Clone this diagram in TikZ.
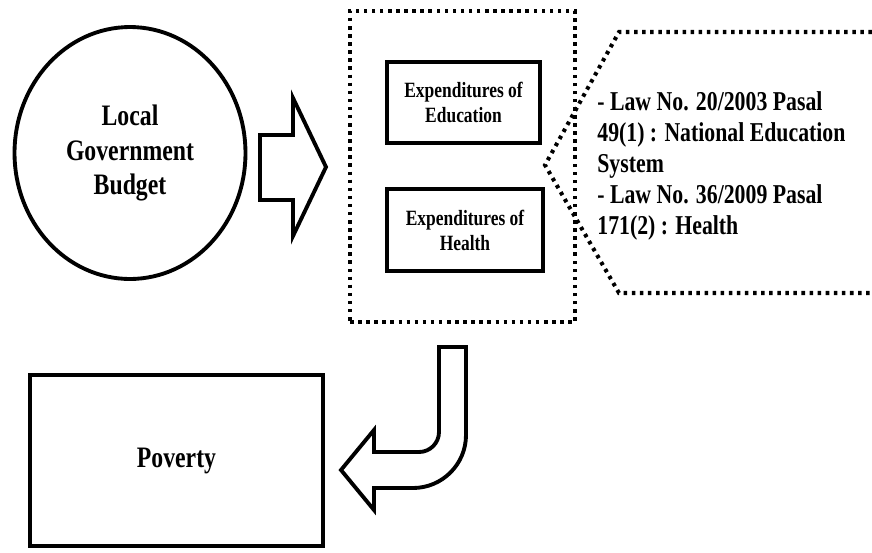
\documentclass[tikz,border=0pt]{standalone}
\usepackage{fontspec}
\setmainfont{Liberation Serif}[FakeStretch=0.8]
\usetikzlibrary{shapes.geometric}
\begin{document}
\begin{tikzpicture}[x=0.02cm,y=-0.02cm,
  thick line/.style={line width=2.2pt,line join=miter},
  dot line/.style={line width=2.3pt,dash pattern=on 2pt off 2.6pt},
  big text/.style={font=\fontsize{16.9}{19.9}\selectfont\bfseries,align=center},
  small text/.style={font=\fontsize{12.4}{14.2}\selectfont\bfseries,align=center},
  law text/.style={font=\fontsize{15.5}{17.7}\selectfont\bfseries,align=left}]
  \useasboundingbox (0,0) rectangle (872,552);

  % budget
  \node [draw,thick line,ellipse,minimum width=4.62cm,minimum height=5.04cm,big text] (budget) at (130,153) {Local\\Government\\Budget};

  % block arrow to the right
  \draw [thick line] (260,135) -- (293,135) -- (293,98) -- (326,167) -- (293,236) -- (293,200) -- (260,200) -- cycle;

  % expenditures
  \node [draw,dot line,minimum width=4.5cm,minimum height=6.22cm] (group) at (462.5,166.5) {};
  \node [draw,thick line,minimum width=3.06cm,minimum height=1.62cm,small text] (edu) at (463.5,102.5) {Expenditures of\\Education};
  \node [draw,thick line,minimum width=3.12cm,minimum height=1.64cm,small text] (health) at (465,230) {Expenditures of\\Health};

  % laws
  \draw [dot line] (880,32) -- (619,32) -- (545,165) -- (619,293) -- (880,293);
  \node [anchor=west,inner sep=0pt,law text] (laws) at (597,166) {- Law No. 20/2003 Pasal\\49(1) : National Education\\System\\- Law No. 36/2009 Pasal\\171(2) : Health};

  % bent arrow down to poverty
  \draw [thick line] (439,347) -- (466,347) -- (466,435) arc [start angle=0,end angle=90,radius=53]
    -- (374,488) -- (374,510) -- (341,470) -- (374,430) -- (374,452) -- (419,452)
    arc [start angle=90,end angle=0,radius=20] -- cycle;

  % poverty
  \node [draw,thick line,minimum width=5.86cm,minimum height=3.42cm,big text] (poverty) at (176.5,460.5) {Poverty};
\end{tikzpicture}
\end{document}
